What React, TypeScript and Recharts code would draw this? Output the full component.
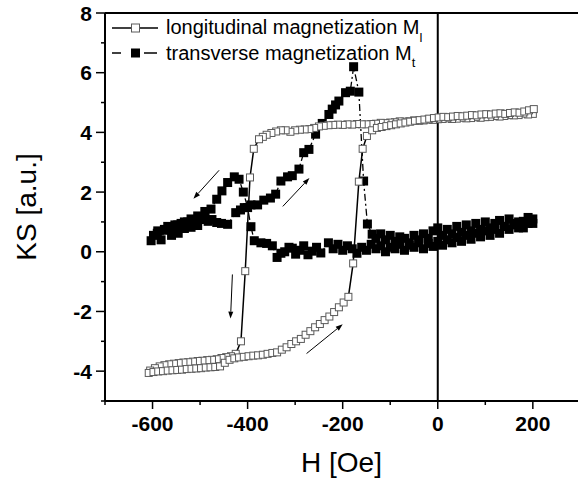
import React from "react";
import {
  ScatterChart,
  Scatter,
  XAxis,
  YAxis,
  ReferenceLine,
  Legend,
  Label,
} from "recharts";

// longitudinal loop: descending branch (200 -> -600), then ascending (-600 -> 200)
const longH = [
  200, 190, 180, 170, 160, 150, 140, 130, 120, 110, 100, 90, 80, 70, 60, 50, 40, 30, 20, 10,
  0, -10, -20, -30, -40, -50, -60, -70, -80, -90, -100, -110, -120, -130, -140, -150, -160, -170, -180, -190,
  -200, -210, -220, -230, -240, -250, -260, -270, -280, -290, -300, -310, -320, -330, -340, -350, -360, -368, -376, -387,
  -395, -405, -414, -425, -435, -445, -455, -465, -475, -485, -495, -505, -515, -525, -535, -545, -555, -565, -575, -585,
  -595, -605,
  -608, -598, -588, -578, -568, -558, -548, -538, -528, -518, -508, -498, -488, -478, -468, -458, -448, -438, -428, -418,
  -408, -398, -388, -378, -368, -358, -348, -338, -328, -318, -308, -298, -288, -278, -268, -258, -248, -238, -228, -218,
  -208, -198, -188, -178, -166, -158, -149, -138, -128, -118, -108, -98, -88, -78, -68, -58, -48, -38, -28, -18,
  -8, 2, 12, 22, 32, 42, 52, 62, 72, 82, 92, 102, 112, 122, 132, 142, 152, 162, 172, 182,
  192, 202,
];
const longKS = [
  4.62, 4.6, 4.63, 4.58, 4.57, 4.58, 4.55, 4.53, 4.55, 4.52, 4.51, 4.49, 4.51, 4.48, 4.47, 4.49, 4.46, 4.45, 4.47, 4.45,
  4.44, 4.42, 4.43, 4.4, 4.39, 4.4, 4.37, 4.36, 4.37, 4.34, 4.33, 4.31, 4.32, 4.29, 4.28, 4.27, 4.27, 4.28, 4.26, 4.27,
  4.25, 4.26, 4.25, 4.24, 4.22, 4.2, 4.15, 4.11, 4.1, 4.09, 4.07, 4.02, 4.07, 4.07, 4.03, 3.98, 3.92, 3.85, 3.77, 3.45,
  2.49, -0.65, -3.0, -3.42, -3.5, -3.53, -3.56, -3.6, -3.62, -3.63, -3.65, -3.66, -3.68, -3.7, -3.71, -3.73, -3.75, -3.77, -3.8, -3.84,
  -3.9, -3.98,
  -4.06, -4.03, -4.01, -4.0, -3.98, -3.97, -3.96, -3.95, -3.93, -3.92, -3.91, -3.9, -3.88, -3.87, -3.86, -3.84, -3.72, -3.62, -3.57, -3.54,
  -3.52, -3.5, -3.48, -3.47, -3.45, -3.42, -3.39, -3.37, -3.28, -3.2, -3.09, -3.0, -2.92, -2.78, -2.66, -2.53, -2.42, -2.29, -2.17, -2.02,
  -1.86, -1.7, -1.51, -0.39, 2.35, 3.45, 3.88, 4.07, 4.15, 4.18, 4.21, 4.24, 4.27, 4.3, 4.33, 4.36, 4.39, 4.41, 4.43, 4.46,
  4.48, 4.5, 4.52, 4.51, 4.53, 4.55, 4.54, 4.56, 4.58, 4.57, 4.6, 4.61, 4.6, 4.63, 4.64, 4.62, 4.65, 4.67, 4.66, 4.7,
  4.74, 4.78,
];

// transverse loop, same order
const transH = [
  200, 190, 180, 170, 160, 150, 140, 130, 120, 110, 100, 90, 80, 70, 60, 50, 40, 30, 20, 10,
  0, -10, -20, -30, -40, -50, -60, -70, -80, -90, -100, -110, -120, -130, -140, -150, -160, -170, -180, -190,
  -200, -210, -220, -230, -246, -255, -264, -273, -282, -290, -299, -306, -313, -322, -330, -338, -348, -360, -372, -386,
  -393, -400, -409, -418, -428, -442, -454, -465, -477, -490, -505, -519, -533, -547, -561, -575, -589, -603,
  -598, -590, -582, -575, -568, -560, -553, -546, -540, -533, -526, -519, -512, -505, -498, -490, -483, -475, -465, -455,
  -442, -425, -415, -407, -393, -379, -366, -352, -341, -330, -316, -306, -292, -282, -271, -257, -243, -229, -222, -215,
  -208, -194, -184, -177, -166, -156, -148, -138, -130, -120, -110, -100, -90, -80, -70, -60, -50, -40, -30, -20,
  -10, 0, 10, 20, 30, 40, 50, 60, 70, 80, 90, 100, 110, 120, 130, 140, 150, 160, 170, 180,
  190, 200,
];
const transKS = [
  1.1, 0.95, 1.02, 0.8, 0.95, 0.75, 0.85, 0.62, 0.75, 0.55, 0.7, 0.5, 0.62, 0.42, 0.55, 0.35, 0.48, 0.3, 0.4, 0.22,
  0.35, 0.18, 0.28, 0.1, 0.3, 0.15, 0.22, 0.05, 0.25, 0.1, 0.15, 0.0, 0.2, 0.1, 0.25, 0.05, 0.15, -0.05, 0.1, 0.2,
  0.05, 0.25, 0.1, 0.3, -0.04, 0.15, 0.02, -0.1, 0.2, 0.05, -0.08, 0.12, 0.15, 0.0, -0.05, -0.19, 0.2, 0.28, 0.3, 0.37,
  0.84, 1.48, 2.0, 2.43, 2.51, 2.32, 2.04, 1.76, 1.43, 1.35, 1.2, 1.1, 1.0, 0.9, 0.8, 0.75, 0.7, 0.37,
  0.55, 0.62, 0.4, 0.72, 0.85, 0.55, 0.9, 0.62, 0.95, 0.78, 1.0, 0.82, 1.05, 0.88, 1.08, 1.15, 1.02, 1.08, 0.98, 0.95,
  0.92, 1.31, 1.4, 1.48, 1.57, 1.57, 1.73, 1.8, 1.93, 2.37, 2.51, 2.55, 2.77, 3.32, 3.43, 3.94, 4.3, 4.6, 4.78, 4.92,
  5.05, 5.33, 5.38, 6.2, 5.35, 2.37, 0.93, 0.59, 0.45, 0.6, 0.4, 0.55, 0.35, 0.5, 0.45, 0.3, 0.55, 0.4, 0.6, 0.45,
  0.7, 0.8, 0.55, 0.75, 0.6, 0.85, 0.65, 0.9, 0.7, 0.95, 0.75, 1.0, 0.8, 0.95, 1.05, 0.85, 1.1, 0.9, 1.0, 0.8,
  1.15, 0.95,
];

const xTicks = [-700, -600, -500, -400, -300, -200, -100, 0, 100, 200];
const yTicks = [-5, -4, -3, -2, -1, 0, 1, 2, 3, 4, 5, 6, 7, 8];

// sweep-direction arrows: [tailH, tailKS, headH, headKS]
const arrows = [
  [-460, 2.73, -514, 1.78],
  [-326, 1.52, -270, 2.47],
  [-432, -0.76, -436, -2.24],
  [-276, -3.41, -200, -2.43],
];

const longData = longH.map((h, i) => ({ h, ks: longKS[i] }));
const transData = transH.map((h, i) => ({ h, ks: transKS[i] }));

const FONT = '"Liberation Sans", Arial, sans-serif';

const OpenSquare = (props: any) => {
  const { cx, cy } = props;
  if (cx == null || cy == null) return null;
  return (
    <rect x={cx - 3.5} y={cy - 3.5} width={7} height={7} fill="#fff" stroke="#5a5a5a" strokeWidth={1} />
  );
};

const FilledSquare = (props: any) => {
  const { cx, cy } = props;
  if (cx == null || cy == null) return null;
  return <rect x={cx - 4.5} y={cy - 4.5} width={9} height={9} fill="#000" />;
};

const XTick = (props: any) => {
  const { x, y, payload } = props;
  const major = payload.value % 200 === 0;
  return (
    <g>
      <line x1={x} y1={y} x2={x} y2={y + (major ? 8 : 4)} stroke="#000" strokeWidth={1.5} />
      {major && (
        <text x={x} y={y + 30} textAnchor="middle" fontFamily={FONT} fontWeight="bold" fontSize={21} fill="#000">
          {payload.value}
        </text>
      )}
    </g>
  );
};

const YTick = (props: any) => {
  const { x, y, payload } = props;
  const major = payload.value % 2 === 0;
  return (
    <g>
      <line x1={x} y1={y} x2={x - (major ? 9 : 4)} y2={y} stroke="#000" strokeWidth={1.5} />
      {major && (
        <text x={x - 13} y={y + 7.5} textAnchor="end" fontFamily={FONT} fontWeight="bold" fontSize={21} fill="#000">
          {payload.value}
        </text>
      )}
    </g>
  );
};

const Arrow = (props: any) => {
  const { x1, y1, x2, y2 } = props;
  if ([x1, y1, x2, y2].some((v) => v == null)) return null;
  const a = Math.atan2(y2 - y1, x2 - x1);
  const len = 7;
  const w = 2.5;
  const bx = x2 - len * Math.cos(a);
  const by = y2 - len * Math.sin(a);
  const px = -Math.sin(a) * w;
  const py = Math.cos(a) * w;
  return (
    <g>
      <line x1={x1} y1={y1} x2={bx} y2={by} stroke="#000" strokeWidth={1} />
      <polygon points={`${x2},${y2} ${bx + px},${by + py} ${bx - px},${by - py}`} fill="#000" />
    </g>
  );
};

const renderLegend = () => (
  <svg width={578} height={80} style={{ display: "block" }}>
    <line x1={112} y1={28} x2={158} y2={28} stroke="#000" strokeWidth={1.5} />
    <rect x={131.5} y={24} width={8} height={8} fill="#fff" stroke="#5a5a5a" strokeWidth={1} />
    <text x={166} y={34} fontFamily={FONT} fontSize={20} fill="#000">
      longitudinal magnetization M
      <tspan dy={8} fontSize={13}>l</tspan>
    </text>
    <line x1={112} y1={53} x2={121} y2={53} stroke="#000" strokeWidth={1.5} />
    <rect x={131} y={48.5} width={9} height={9} fill="#000" />
    <line x1={144} y1={53} x2={157} y2={53} stroke="#000" strokeWidth={1.5} />
    <text x={166} y={60} fontFamily={FONT} fontSize={20} fill="#000">
      transverse magnetization M
      <tspan dy={7} fontSize={13}>t</tspan>
    </text>
  </svg>
);

export default function App() {
  return (
    <div style={{ position: "absolute", left: 0, top: 0, width: 578, height: 478, background: "#fff" }}>
      <ScatterChart width={578} height={478} margin={{ top: 13, right: 0, bottom: 17, left: 45 }}>
        <XAxis
          type="number"
          dataKey="h"
          domain={[-700, 295]}
          ticks={xTicks}
          interval={0}
          height={60}
          tickSize={0}
          tickMargin={0}
          tickLine={false}
          tick={<XTick />}
          axisLine={{ stroke: "#000", strokeWidth: 2 }}
        >
          <Label
            content={({ viewBox }: any) => (
              <text
                x={viewBox.x + viewBox.width / 2}
                y={viewBox.y + 71}
                textAnchor="middle"
                fontFamily={FONT}
                fontSize={28}
                fill="#000"
              >
                H [Oe]
              </text>
            )}
          />
        </XAxis>
        <YAxis
          type="number"
          dataKey="ks"
          domain={[-5, 8]}
          ticks={yTicks}
          interval={0}
          width={60}
          tickSize={0}
          tickMargin={0}
          tickLine={false}
          tick={<YTick />}
          axisLine={{ stroke: "#000", strokeWidth: 2 }}
        >
          <Label
            content={({ viewBox }: any) => {
              const cx = viewBox.x - 9;
              const cy = viewBox.y + viewBox.height / 2;
              return (
                <text
                  x={cx}
                  y={cy}
                  textAnchor="middle"
                  transform={`rotate(-90 ${cx} ${cy})`}
                  fontFamily={FONT}
                  fontSize={28}
                  fill="#000"
                >
                  KS [a.u.]
                </text>
              );
            }}
          />
        </YAxis>
        <ReferenceLine y={8} stroke="#000" strokeWidth={2} />
        <ReferenceLine x={0} stroke="#000" strokeWidth={2} />
        {arrows.map((a, i) => (
          <ReferenceLine
            key={i}
            segment={[
              { x: a[0], y: a[1] },
              { x: a[2], y: a[3] },
            ]}
            shape={<Arrow />}
          />
        ))}
        <Scatter
          name="transverse magnetization"
          data={transData}
          line={{ stroke: "#000", strokeWidth: 1.3, strokeDasharray: "7 3 2 3" }}
          shape={<FilledSquare />}
          isAnimationActive={false}
        />
        <Scatter
          name="longitudinal magnetization"
          data={longData}
          line={{ stroke: "#000", strokeWidth: 1.5 }}
          shape={<OpenSquare />}
          isAnimationActive={false}
        />
        <Legend
          layout="vertical"
          align="center"
          verticalAlign="middle"
          content={renderLegend}
          wrapperStyle={{ left: 0, top: 0, width: 578, height: 80 }}
        />
      </ScatterChart>
    </div>
  );
}
